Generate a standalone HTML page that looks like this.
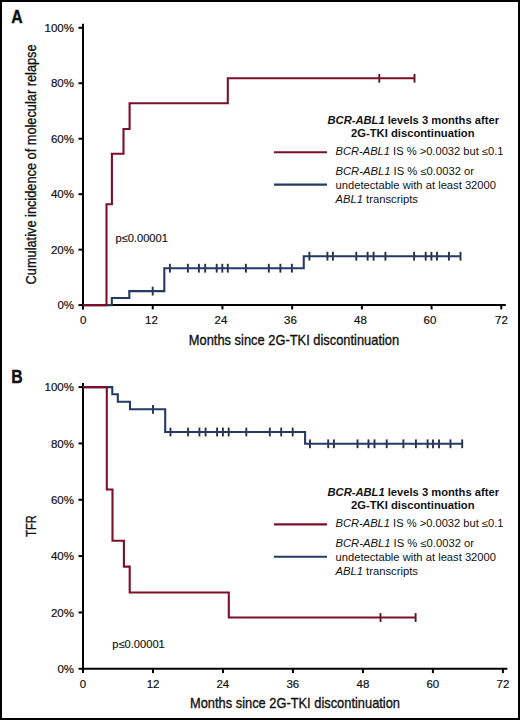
<!DOCTYPE html>
<html><head><meta charset="utf-8"><style>
html,body{margin:0;padding:0;background:#fff;}
body{width:520px;height:720px;overflow:hidden;}
svg{display:block;font-family:"Liberation Sans",sans-serif;}
</style></head><body>
<svg width="520" height="720" viewBox="0 0 520 720">
<rect x="0" y="0" width="520" height="720" fill="#fff"/>
<rect x="1" y="1" width="518" height="718" fill="none" stroke="#000" stroke-width="2"/>
<text x="11.2" y="23" font-size="17.6" font-weight="bold" fill="#111" stroke="#111" stroke-width="0.4" textLength="11.4" lengthAdjust="spacingAndGlyphs">A</text>
<line x1="78.5" y1="27.80" x2="83" y2="27.80" stroke="#000" stroke-width="2"/>
<text x="74" y="31.90" font-size="11.5" text-anchor="end" fill="#111" stroke="#111" stroke-width="0.2">100%</text>
<line x1="78.5" y1="83.26" x2="83" y2="83.26" stroke="#000" stroke-width="2"/>
<text x="74" y="87.36" font-size="11.5" text-anchor="end" fill="#111" stroke="#111" stroke-width="0.2">80%</text>
<line x1="78.5" y1="138.72" x2="83" y2="138.72" stroke="#000" stroke-width="2"/>
<text x="74" y="142.82" font-size="11.5" text-anchor="end" fill="#111" stroke="#111" stroke-width="0.2">60%</text>
<line x1="78.5" y1="194.18" x2="83" y2="194.18" stroke="#000" stroke-width="2"/>
<text x="74" y="198.28" font-size="11.5" text-anchor="end" fill="#111" stroke="#111" stroke-width="0.2">40%</text>
<line x1="78.5" y1="249.64" x2="83" y2="249.64" stroke="#000" stroke-width="2"/>
<text x="74" y="253.74" font-size="11.5" text-anchor="end" fill="#111" stroke="#111" stroke-width="0.2">20%</text>
<line x1="78.5" y1="305.10" x2="83" y2="305.10" stroke="#000" stroke-width="2"/>
<text x="74" y="309.20" font-size="11.5" text-anchor="end" fill="#111" stroke="#111" stroke-width="0.2">0%</text>
<line x1="83.00" y1="305.1" x2="83.00" y2="309.4" stroke="#000" stroke-width="2"/>
<text x="83.25" y="324.2" font-size="11.5" text-anchor="middle" fill="#111" stroke="#111" stroke-width="0.2">0</text>
<line x1="152.72" y1="305.1" x2="152.72" y2="309.4" stroke="#000" stroke-width="2"/>
<text x="151.40" y="324.2" font-size="11.5" text-anchor="middle" fill="#111" stroke="#111" stroke-width="0.2">12</text>
<line x1="222.43" y1="305.1" x2="222.43" y2="309.4" stroke="#000" stroke-width="2"/>
<text x="221.00" y="324.2" font-size="11.5" text-anchor="middle" fill="#111" stroke="#111" stroke-width="0.2">24</text>
<line x1="292.15" y1="305.1" x2="292.15" y2="309.4" stroke="#000" stroke-width="2"/>
<text x="290.50" y="324.2" font-size="11.5" text-anchor="middle" fill="#111" stroke="#111" stroke-width="0.2">36</text>
<line x1="361.87" y1="305.1" x2="361.87" y2="309.4" stroke="#000" stroke-width="2"/>
<text x="360.50" y="324.2" font-size="11.5" text-anchor="middle" fill="#111" stroke="#111" stroke-width="0.2">48</text>
<line x1="431.58" y1="305.1" x2="431.58" y2="309.4" stroke="#000" stroke-width="2"/>
<text x="430.00" y="324.2" font-size="11.5" text-anchor="middle" fill="#111" stroke="#111" stroke-width="0.2">60</text>
<line x1="501.30" y1="305.1" x2="501.30" y2="309.4" stroke="#000" stroke-width="2"/>
<text x="501.50" y="324.2" font-size="11.5" text-anchor="middle" fill="#111" stroke="#111" stroke-width="0.2">72</text>
<line x1="83" y1="23.8" x2="83" y2="306.1" stroke="#000" stroke-width="2"/>
<line x1="82" y1="305.1" x2="505.8" y2="305.1" stroke="#000" stroke-width="2"/>
<text transform="translate(35.8,164.4) rotate(-90)" x="0" y="0" font-size="14.6" text-anchor="middle" textLength="240" lengthAdjust="spacingAndGlyphs" fill="#111" stroke="#111" stroke-width="0.35">Cumulative incidence of molecular relapse</text>
<text x="188.8" y="344.5" font-size="14.6" textLength="210.39999999999998" lengthAdjust="spacingAndGlyphs" fill="#111" stroke="#111" stroke-width="0.35">Months since 2G-TKI discontinuation</text>
<line x1="152.7" y1="286.70000000000005" x2="152.7" y2="295.5" stroke="#263049" stroke-width="1.9"/>
<line x1="169.9" y1="263.8" x2="169.9" y2="272.59999999999997" stroke="#263049" stroke-width="1.9"/>
<line x1="187.9" y1="263.8" x2="187.9" y2="272.59999999999997" stroke="#263049" stroke-width="1.9"/>
<line x1="198.9" y1="263.8" x2="198.9" y2="272.59999999999997" stroke="#263049" stroke-width="1.9"/>
<line x1="205.2" y1="263.8" x2="205.2" y2="272.59999999999997" stroke="#263049" stroke-width="1.9"/>
<line x1="216.7" y1="263.8" x2="216.7" y2="272.59999999999997" stroke="#263049" stroke-width="1.9"/>
<line x1="222.3" y1="263.8" x2="222.3" y2="272.59999999999997" stroke="#263049" stroke-width="1.9"/>
<line x1="227.8" y1="263.8" x2="227.8" y2="272.59999999999997" stroke="#263049" stroke-width="1.9"/>
<line x1="245.9" y1="263.8" x2="245.9" y2="272.59999999999997" stroke="#263049" stroke-width="1.9"/>
<line x1="268.8" y1="263.8" x2="268.8" y2="272.59999999999997" stroke="#263049" stroke-width="1.9"/>
<line x1="280.4" y1="263.8" x2="280.4" y2="272.59999999999997" stroke="#263049" stroke-width="1.9"/>
<line x1="291.9" y1="263.8" x2="291.9" y2="272.59999999999997" stroke="#263049" stroke-width="1.9"/>
<line x1="309.4" y1="251.79999999999998" x2="309.4" y2="260.59999999999997" stroke="#263049" stroke-width="1.9"/>
<line x1="327.4" y1="251.79999999999998" x2="327.4" y2="260.59999999999997" stroke="#263049" stroke-width="1.9"/>
<line x1="332.9" y1="251.79999999999998" x2="332.9" y2="260.59999999999997" stroke="#263049" stroke-width="1.9"/>
<line x1="356.3" y1="251.79999999999998" x2="356.3" y2="260.59999999999997" stroke="#263049" stroke-width="1.9"/>
<line x1="367.6" y1="251.79999999999998" x2="367.6" y2="260.59999999999997" stroke="#263049" stroke-width="1.9"/>
<line x1="373.6" y1="251.79999999999998" x2="373.6" y2="260.59999999999997" stroke="#263049" stroke-width="1.9"/>
<line x1="385.4" y1="251.79999999999998" x2="385.4" y2="260.59999999999997" stroke="#263049" stroke-width="1.9"/>
<line x1="414.1" y1="251.79999999999998" x2="414.1" y2="260.59999999999997" stroke="#263049" stroke-width="1.9"/>
<line x1="425.7" y1="251.79999999999998" x2="425.7" y2="260.59999999999997" stroke="#263049" stroke-width="1.9"/>
<line x1="431.4" y1="251.79999999999998" x2="431.4" y2="260.59999999999997" stroke="#263049" stroke-width="1.9"/>
<line x1="437" y1="251.79999999999998" x2="437" y2="260.59999999999997" stroke="#263049" stroke-width="1.9"/>
<line x1="448.9" y1="251.79999999999998" x2="448.9" y2="260.59999999999997" stroke="#263049" stroke-width="1.9"/>
<line x1="460.5" y1="251.79999999999998" x2="460.5" y2="260.59999999999997" stroke="#263049" stroke-width="1.9"/>
<path d="M83 305.1 H111.8 V298 H129.3 V291.1 H164.3 V268.2 H303.75 V256.2 H460.5" fill="none" stroke="#253a64" stroke-width="2.1"/>
<line x1="379.3" y1="73.89999999999999" x2="379.3" y2="82.7" stroke="#55172a" stroke-width="1.9"/>
<line x1="414.5" y1="73.89999999999999" x2="414.5" y2="82.7" stroke="#55172a" stroke-width="1.9"/>
<path d="M83 305.1 H106.5 V204.2 H111.9 V153.7 H123.5 V129 H129.6 V103.3 H227.8 V78.3 H414.5" fill="none" stroke="#7d0f29" stroke-width="2.1"/>
<text x="115.4" y="241.7" font-size="11" textLength="52.5" lengthAdjust="spacingAndGlyphs" fill="#111" stroke="#111" stroke-width="0.15">p≤0.00001</text>
<text x="327.5" y="123.8" font-size="10" font-weight="bold" textLength="171.5" lengthAdjust="spacingAndGlyphs" fill="#111"><tspan font-style="italic">BCR-ABL1</tspan> levels 3 months after</text>
<text x="351" y="136.9" font-size="10" font-weight="bold" textLength="123.5" lengthAdjust="spacingAndGlyphs" fill="#111">2G-TKI discontinuation</text>
<line x1="274" y1="152.3" x2="327" y2="152.3" stroke="#7d0f29" stroke-width="2.1"/>
<line x1="274" y1="184.6" x2="327" y2="184.6" stroke="#253a64" stroke-width="2.1"/>
<text x="335.5" y="155.1" font-size="10" textLength="168" lengthAdjust="spacingAndGlyphs" fill="#111"><tspan font-style="italic">BCR-ABL1</tspan> IS % &gt;0.0032 but ≤0.1</text>
<text x="335.5" y="175.2" font-size="10" textLength="138.5" lengthAdjust="spacingAndGlyphs" fill="#111"><tspan font-style="italic">BCR-ABL1</tspan> IS % ≤0.0032 or</text>
<text x="335.5" y="188.9" font-size="10" textLength="160.5" lengthAdjust="spacingAndGlyphs" fill="#111">undetectable with at least 32000</text>
<text x="335.5" y="202.9" font-size="10" textLength="82.5" lengthAdjust="spacingAndGlyphs" fill="#111"><tspan font-style="italic">ABL1</tspan> transcripts</text>
<text x="11.2" y="383" font-size="17.6" font-weight="bold" fill="#111" stroke="#111" stroke-width="0.4" textLength="11.4" lengthAdjust="spacingAndGlyphs">B</text>
<line x1="78.5" y1="387.10" x2="83" y2="387.10" stroke="#000" stroke-width="2"/>
<text x="74" y="391.20" font-size="11.5" text-anchor="end" fill="#111" stroke="#111" stroke-width="0.2">100%</text>
<line x1="78.5" y1="443.44" x2="83" y2="443.44" stroke="#000" stroke-width="2"/>
<text x="74" y="447.54" font-size="11.5" text-anchor="end" fill="#111" stroke="#111" stroke-width="0.2">80%</text>
<line x1="78.5" y1="499.78" x2="83" y2="499.78" stroke="#000" stroke-width="2"/>
<text x="74" y="503.88" font-size="11.5" text-anchor="end" fill="#111" stroke="#111" stroke-width="0.2">60%</text>
<line x1="78.5" y1="556.12" x2="83" y2="556.12" stroke="#000" stroke-width="2"/>
<text x="74" y="560.22" font-size="11.5" text-anchor="end" fill="#111" stroke="#111" stroke-width="0.2">40%</text>
<line x1="78.5" y1="612.46" x2="83" y2="612.46" stroke="#000" stroke-width="2"/>
<text x="74" y="616.56" font-size="11.5" text-anchor="end" fill="#111" stroke="#111" stroke-width="0.2">20%</text>
<line x1="78.5" y1="668.80" x2="83" y2="668.80" stroke="#000" stroke-width="2"/>
<text x="74" y="672.90" font-size="11.5" text-anchor="end" fill="#111" stroke="#111" stroke-width="0.2">0%</text>
<line x1="83.00" y1="668.8" x2="83.00" y2="673.1" stroke="#000" stroke-width="2"/>
<text x="83.00" y="688" font-size="11.5" text-anchor="middle" fill="#111" stroke="#111" stroke-width="0.2">0</text>
<line x1="152.98" y1="668.8" x2="152.98" y2="673.1" stroke="#000" stroke-width="2"/>
<text x="153.10" y="688" font-size="11.5" text-anchor="middle" fill="#111" stroke="#111" stroke-width="0.2">12</text>
<line x1="222.97" y1="668.8" x2="222.97" y2="673.1" stroke="#000" stroke-width="2"/>
<text x="222.80" y="688" font-size="11.5" text-anchor="middle" fill="#111" stroke="#111" stroke-width="0.2">24</text>
<line x1="292.95" y1="668.8" x2="292.95" y2="673.1" stroke="#000" stroke-width="2"/>
<text x="292.80" y="688" font-size="11.5" text-anchor="middle" fill="#111" stroke="#111" stroke-width="0.2">36</text>
<line x1="362.93" y1="668.8" x2="362.93" y2="673.1" stroke="#000" stroke-width="2"/>
<text x="363.00" y="688" font-size="11.5" text-anchor="middle" fill="#111" stroke="#111" stroke-width="0.2">48</text>
<line x1="432.92" y1="668.8" x2="432.92" y2="673.1" stroke="#000" stroke-width="2"/>
<text x="432.80" y="688" font-size="11.5" text-anchor="middle" fill="#111" stroke="#111" stroke-width="0.2">60</text>
<line x1="502.90" y1="668.8" x2="502.90" y2="673.1" stroke="#000" stroke-width="2"/>
<text x="503.00" y="688" font-size="11.5" text-anchor="middle" fill="#111" stroke="#111" stroke-width="0.2">72</text>
<line x1="83" y1="383.1" x2="83" y2="669.8" stroke="#000" stroke-width="2"/>
<line x1="82" y1="668.8" x2="507.4" y2="668.8" stroke="#000" stroke-width="2"/>
<text transform="translate(35.8,526) rotate(-90)" x="0" y="0" font-size="14.6" text-anchor="middle" textLength="21.3" lengthAdjust="spacingAndGlyphs" fill="#111" stroke="#111" stroke-width="0.35">TFR</text>
<text x="190" y="708.2" font-size="14.6" textLength="210" lengthAdjust="spacingAndGlyphs" fill="#111" stroke="#111" stroke-width="0.35">Months since 2G-TKI discontinuation</text>
<line x1="153" y1="404.90000000000003" x2="153" y2="413.7" stroke="#263049" stroke-width="1.9"/>
<line x1="170.5" y1="427.6" x2="170.5" y2="436.4" stroke="#263049" stroke-width="1.9"/>
<line x1="188.1" y1="427.6" x2="188.1" y2="436.4" stroke="#263049" stroke-width="1.9"/>
<line x1="199.4" y1="427.6" x2="199.4" y2="436.4" stroke="#263049" stroke-width="1.9"/>
<line x1="205.6" y1="427.6" x2="205.6" y2="436.4" stroke="#263049" stroke-width="1.9"/>
<line x1="217.1" y1="427.6" x2="217.1" y2="436.4" stroke="#263049" stroke-width="1.9"/>
<line x1="222.9" y1="427.6" x2="222.9" y2="436.4" stroke="#263049" stroke-width="1.9"/>
<line x1="228.7" y1="427.6" x2="228.7" y2="436.4" stroke="#263049" stroke-width="1.9"/>
<line x1="246.3" y1="427.6" x2="246.3" y2="436.4" stroke="#263049" stroke-width="1.9"/>
<line x1="269.8" y1="427.6" x2="269.8" y2="436.4" stroke="#263049" stroke-width="1.9"/>
<line x1="281.2" y1="427.6" x2="281.2" y2="436.4" stroke="#263049" stroke-width="1.9"/>
<line x1="292.7" y1="427.6" x2="292.7" y2="436.4" stroke="#263049" stroke-width="1.9"/>
<line x1="310" y1="439.40000000000003" x2="310" y2="448.2" stroke="#263049" stroke-width="1.9"/>
<line x1="328.2" y1="439.40000000000003" x2="328.2" y2="448.2" stroke="#263049" stroke-width="1.9"/>
<line x1="333.9" y1="439.40000000000003" x2="333.9" y2="448.2" stroke="#263049" stroke-width="1.9"/>
<line x1="357.5" y1="439.40000000000003" x2="357.5" y2="448.2" stroke="#263049" stroke-width="1.9"/>
<line x1="368.5" y1="439.40000000000003" x2="368.5" y2="448.2" stroke="#263049" stroke-width="1.9"/>
<line x1="374.5" y1="439.40000000000003" x2="374.5" y2="448.2" stroke="#263049" stroke-width="1.9"/>
<line x1="386.7" y1="439.40000000000003" x2="386.7" y2="448.2" stroke="#263049" stroke-width="1.9"/>
<line x1="403.4" y1="439.40000000000003" x2="403.4" y2="448.2" stroke="#263049" stroke-width="1.9"/>
<line x1="415.9" y1="439.40000000000003" x2="415.9" y2="448.2" stroke="#263049" stroke-width="1.9"/>
<line x1="427.6" y1="439.40000000000003" x2="427.6" y2="448.2" stroke="#263049" stroke-width="1.9"/>
<line x1="433" y1="439.40000000000003" x2="433" y2="448.2" stroke="#263049" stroke-width="1.9"/>
<line x1="439" y1="439.40000000000003" x2="439" y2="448.2" stroke="#263049" stroke-width="1.9"/>
<line x1="450.5" y1="439.40000000000003" x2="450.5" y2="448.2" stroke="#263049" stroke-width="1.9"/>
<line x1="462.2" y1="439.40000000000003" x2="462.2" y2="448.2" stroke="#263049" stroke-width="1.9"/>
<path d="M83 387.1 H112.3 V394.2 H117.8 V401.8 H130 V409.3 H165.2 V432 H305.1 V443.8 H462.2" fill="none" stroke="#253a64" stroke-width="2.1"/>
<line x1="380.5" y1="613.1" x2="380.5" y2="621.9" stroke="#55172a" stroke-width="1.9"/>
<line x1="415.6" y1="613.1" x2="415.6" y2="621.9" stroke="#55172a" stroke-width="1.9"/>
<path d="M83 387.1 H106.8 V489.5 H112.5 V540.8 H123.9 V566.6 H129.7 V592.5 H228.8 V617.5 H415.6" fill="none" stroke="#7d0f29" stroke-width="2.1"/>
<text x="112.3" y="648.3" font-size="11" textLength="52.5" lengthAdjust="spacingAndGlyphs" fill="#111" stroke="#111" stroke-width="0.15">p≤0.00001</text>
<text x="327.5" y="495.90000000000003" font-size="10" font-weight="bold" textLength="171.5" lengthAdjust="spacingAndGlyphs" fill="#111"><tspan font-style="italic">BCR-ABL1</tspan> levels 3 months after</text>
<text x="351" y="509.0" font-size="10" font-weight="bold" textLength="123.5" lengthAdjust="spacingAndGlyphs" fill="#111">2G-TKI discontinuation</text>
<line x1="274" y1="524.4000000000001" x2="327" y2="524.4000000000001" stroke="#7d0f29" stroke-width="2.1"/>
<line x1="274" y1="556.7" x2="327" y2="556.7" stroke="#253a64" stroke-width="2.1"/>
<text x="335.5" y="527.2" font-size="10" textLength="168" lengthAdjust="spacingAndGlyphs" fill="#111"><tspan font-style="italic">BCR-ABL1</tspan> IS % &gt;0.0032 but ≤0.1</text>
<text x="335.5" y="547.3" font-size="10" textLength="138.5" lengthAdjust="spacingAndGlyphs" fill="#111"><tspan font-style="italic">BCR-ABL1</tspan> IS % ≤0.0032 or</text>
<text x="335.5" y="561.0" font-size="10" textLength="160.5" lengthAdjust="spacingAndGlyphs" fill="#111">undetectable with at least 32000</text>
<text x="335.5" y="575.0" font-size="10" textLength="82.5" lengthAdjust="spacingAndGlyphs" fill="#111"><tspan font-style="italic">ABL1</tspan> transcripts</text>
</svg>
</body></html>
